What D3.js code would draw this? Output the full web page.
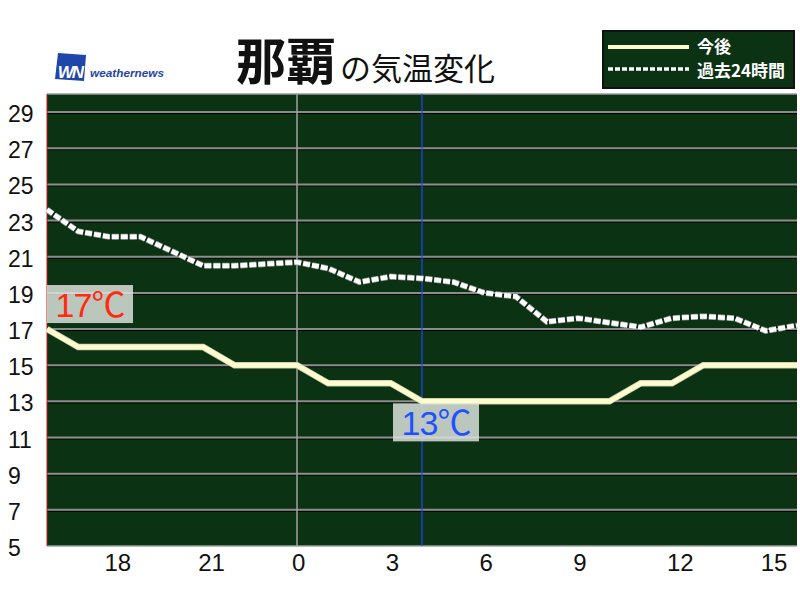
<!DOCTYPE html>
<html>
<head>
<meta charset="utf-8">
<script src="https://cdn.jsdelivr.net/npm/d3@7"></script>
<style>
  body { margin: 0; background: #ffffff; }
  svg { display: block; }
</style>
</head>
<body>
<div id="chart"></div>
<script>
// hour of day for each point, from 16:00 yesterday to 16:00 today
const hoursOfDay = [16, 17, 18, 19, 20, 21, 22, 23, 0, 1, 2, 3, 4, 5, 6, 7, 8, 9, 10, 11, 12, 13, 14, 15, 16];
const forecastTemps = [17, 16, 16, 16, 16, 16, 15, 15, 15, 14, 14, 14, 13, 13, 13, 13, 13, 13, 13, 14, 14, 15, 15, 15, 15];
const pastTemps = [23.6, 22.4, 22.1, 22.1, 21.3, 20.5, 20.5, 20.6, 20.7, 20.35, 19.6, 19.9, 19.8, 19.6, 19.0, 18.8, 17.4, 17.6, 17.35, 17.1, 17.6, 17.7, 17.6, 16.9, 17.2];
const yTickValues = [5, 7, 9, 11, 13, 15, 17, 19, 21, 23, 25, 27, 29];
const xTickHours = [18, 21, 0, 3, 6, 9, 12, 15];
const legendLabels = ["今後", "過去24時間"];
const cityName = "那覇";
const titleRest = "の気温変化";
const nowIndex = 12;
const midnightIndex = 8;

const WIDTH = 800, HEIGHT = 600;
const PLOT = {left: 47, right: 797, top: 94, bottom: 546};
const BG_GREEN = "#0c3214";
const CREAM = "#fdfbcf";

const svg = d3.select("#chart").append("svg")
    .attr("width", WIDTH).attr("height", HEIGHT);

const x = d3.scaleLinear().domain([0, hoursOfDay.length - 1]).range([PLOT.left, PLOT.right]);
const y = d3.scaleLinear().domain([5, 30]).range([PLOT.bottom, PLOT.top]);

// plot background
svg.append("rect")
    .attr("x", PLOT.left).attr("y", PLOT.top)
    .attr("width", PLOT.right - PLOT.left).attr("height", PLOT.bottom - PLOT.top)
    .attr("fill", BG_GREEN);

// horizontal grid lines (gray with a dark shadow)
const grid = svg.append("g");
yTickValues.filter(v => v > 5).forEach(v => {
    grid.append("line")
        .attr("x1", PLOT.left).attr("x2", PLOT.right)
        .attr("y1", y(v) + 1.5).attr("y2", y(v) + 1.5)
        .attr("stroke", "#000").attr("stroke-width", 1);
    grid.append("line")
        .attr("x1", PLOT.left).attr("x2", PLOT.right)
        .attr("y1", y(v)).attr("y2", y(v))
        .attr("stroke", "#8c8c8c").attr("stroke-width", 2);
});

// frame
svg.append("line").attr("x1", PLOT.left).attr("x2", PLOT.right)
    .attr("y1", PLOT.top).attr("y2", PLOT.top).attr("stroke", "#9a9a9a").attr("stroke-width", 1.5);
svg.append("line").attr("x1", PLOT.left).attr("x2", PLOT.right)
    .attr("y1", PLOT.bottom).attr("y2", PLOT.bottom).attr("stroke", "#9aa59a").attr("stroke-width", 1.5);
svg.append("line").attr("x1", PLOT.left).attr("x2", PLOT.left)
    .attr("y1", PLOT.top).attr("y2", PLOT.bottom).attr("stroke", "#d01010").attr("stroke-width", 1);

// midnight line and "now" line
svg.append("line")
    .attr("x1", x(midnightIndex)).attr("x2", x(midnightIndex))
    .attr("y1", PLOT.top).attr("y2", PLOT.bottom)
    .attr("stroke", "#a0a0a0").attr("stroke-width", 1.5);
svg.append("line")
    .attr("x1", x(nowIndex)).attr("x2", x(nowIndex))
    .attr("y1", PLOT.top).attr("y2", PLOT.bottom)
    .attr("stroke", "#2244ff").attr("stroke-width", 1.2);

const line = d3.line().x((d, i) => x(i)).y(d => y(d));

// past 24h (white dashed)
svg.append("path").datum(pastTemps)
    .attr("d", line).attr("fill", "none")
    .attr("stroke", "#9a9a9a").attr("stroke-width", 6)
    .attr("stroke-dasharray", "7,2");
svg.append("path").datum(pastTemps)
    .attr("d", line).attr("fill", "none")
    .attr("stroke", "#ffffff").attr("stroke-width", 4.5)
    .attr("stroke-dasharray", "7,2");

// forecast (cream)
svg.append("path").datum(forecastTemps)
    .attr("d", line).attr("fill", "none")
    .attr("stroke", "#c8c6a0").attr("stroke-width", 6.5)
    .attr("stroke-linejoin", "miter");
svg.append("path").datum(forecastTemps)
    .attr("d", line).attr("fill", "none")
    .attr("stroke", CREAM).attr("stroke-width", 5)
    .attr("stroke-linejoin", "miter");

// value labels
function valueLabel(index, value, color, above) {
    const boxW = 86, boxH = 38;
    const bx = index === 0 ? x(index) : x(index) - 29;
    const by = above ? y(value) - boxH - 6 : y(value) + 2;
    const g = svg.append("g");
    g.append("rect")
        .attr("x", bx).attr("y", by).attr("width", boxW).attr("height", boxH)
        .attr("fill", "rgb(222,228,222)").attr("fill-opacity", 0.84);
    g.append("text")
        .attr("x", bx + boxW / 2).attr("y", by + 32)
        .attr("text-anchor", "middle")
        .attr("font-family", "'Liberation Sans', 'Noto Sans CJK JP', sans-serif")
        .attr("font-size", 34)
        .attr("letter-spacing", -1)
        .attr("fill", color)
        .text(d3.format("d")(value) + "℃");
}
valueLabel(0, forecastTemps[0], "#ff2a10", true);
const minTemp = d3.min(forecastTemps);
valueLabel(forecastTemps.indexOf(minTemp), minTemp, "#1f52ff", false);

// y-axis labels
const yAxis = svg.append("g");
yTickValues.forEach(v => {
    yAxis.append("text")
        .attr("x", 8).attr("y", y(v) + 10)
        .attr("font-family", "'Liberation Sans', sans-serif")
        .attr("font-size", 23)
        .attr("fill", "#111")
        .text(v);
});

// x-axis labels (left aligned just before each hour)
const xAxis = svg.append("g");
xTickHours.forEach(h => {
    const idx = hoursOfDay.indexOf(h, h >= 16 ? 0 : 1);
    xAxis.append("text")
        .attr("x", x(idx) - 5).attr("y", 571)
        .attr("font-family", "'Liberation Sans', sans-serif")
        .attr("font-size", 24)
        .attr("fill", "#111")
        .text(h);
});

// title
const title = svg.append("text")
    .attr("x", 236).attr("y", 80)
    .attr("font-family", "'Noto Sans CJK JP', sans-serif")
    .attr("fill", "#111");
title.append("tspan").attr("font-size", 50).attr("font-weight", "bold").text(cityName);
title.append("tspan").attr("font-size", 31).attr("dx", 4).text(titleRest);

// weathernews logo
const logo = svg.append("g");
logo.append("path")
    .attr("d", "M58,53 L86,55 L84,81 L55,79 Z")
    .attr("fill", "#1f46a8");
logo.append("text")
    .attr("x", 70).attr("y", 78)
    .attr("text-anchor", "middle")
    .attr("font-family", "'Liberation Sans', sans-serif")
    .attr("font-size", 17).attr("font-weight", "bold").attr("font-style", "italic")
    .attr("fill", "#ffffff").attr("letter-spacing", -2)
    .text("WN");
logo.append("text")
    .attr("x", 90).attr("y", 77)
    .attr("font-family", "'Liberation Sans', sans-serif")
    .attr("font-size", 11.8).attr("font-weight", "bold").attr("font-style", "italic")
    .attr("fill", "#1f46a8")
    .text("weathernews");

// legend
const legend = svg.append("g");
legend.append("rect")
    .attr("x", 603).attr("y", 31).attr("width", 191).attr("height", 57)
    .attr("fill", BG_GREEN).attr("stroke", "#111").attr("stroke-width", 2);
legend.append("line")
    .attr("x1", 608).attr("x2", 689).attr("y1", 47).attr("y2", 47)
    .attr("stroke", CREAM).attr("stroke-width", 4);
legend.append("line")
    .attr("x1", 608).attr("x2", 689).attr("y1", 69).attr("y2", 69)
    .attr("stroke", "#ffffff").attr("stroke-width", 3.5)
    .attr("stroke-dasharray", "5,2");
legendLabels.forEach((label, i) => {
    legend.append("text")
        .attr("x", 697).attr("y", 53 + i * 24)
        .attr("font-family", "'Noto Sans CJK JP', sans-serif")
        .attr("font-size", 17).attr("font-weight", "bold")
        .attr("fill", "#ffffff")
        .text(label);
});
</script>
</body>
</html>
